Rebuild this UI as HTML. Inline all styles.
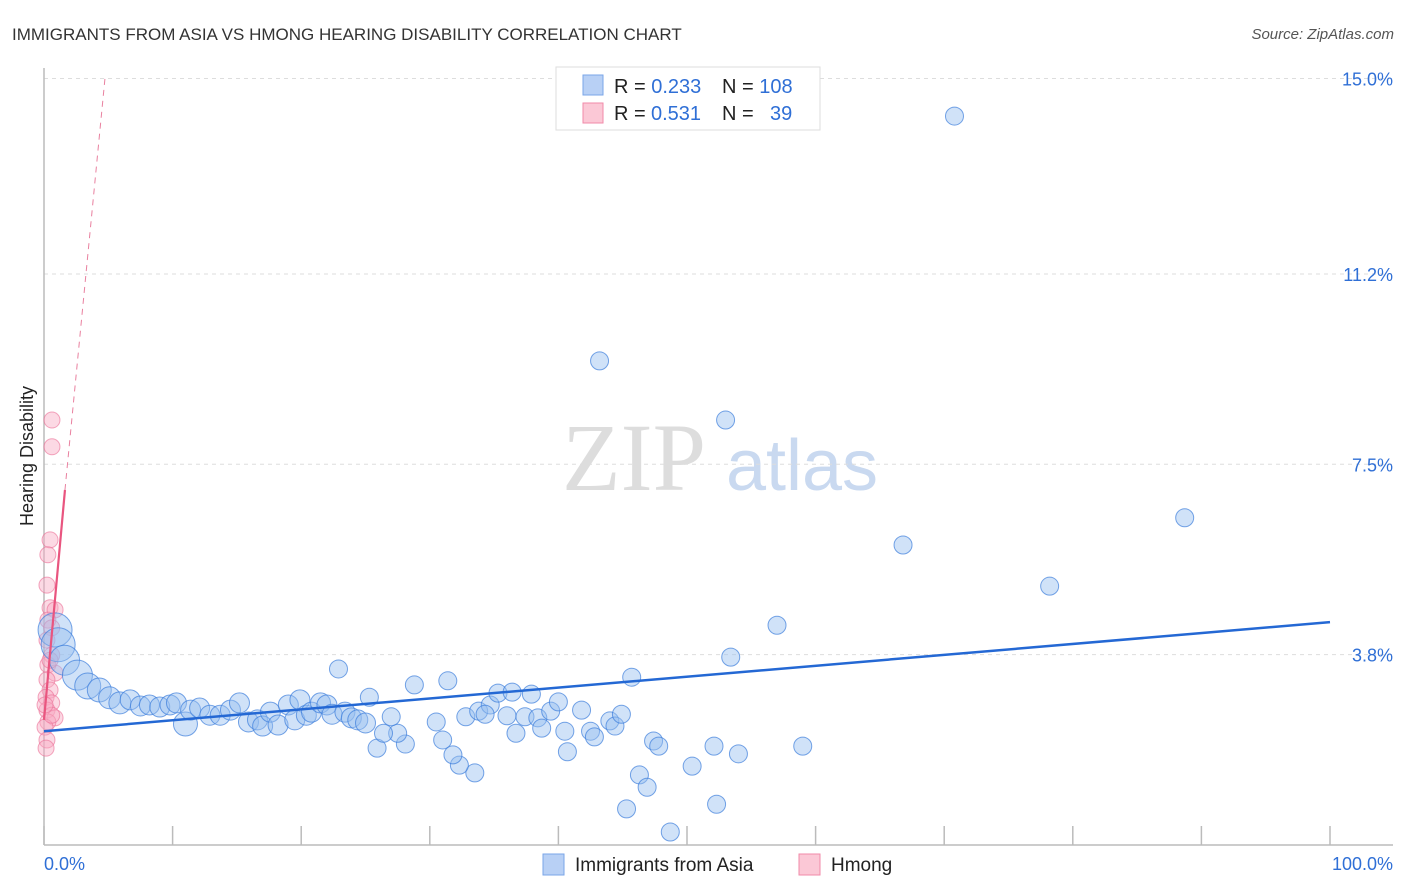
<!DOCTYPE html>
<html><head><meta charset="utf-8">
<style>
body{margin:0;background:#fff;font-family:"Liberation Sans",sans-serif;}
#wrap{position:relative;width:1406px;height:892px;overflow:hidden;}
</style></head>
<body>
<div id="wrap">
<svg id="svg" width="1406" height="892" xmlns="http://www.w3.org/2000/svg">
<text x="12" y="40" font-size="17" fill="#333">IMMIGRANTS FROM ASIA VS HMONG HEARING DISABILITY CORRELATION CHART</text>
<text x="1394" y="39" font-size="15" fill="#555" text-anchor="end" font-style="italic">Source: ZipAtlas.com</text>
<text x="33" y="456" font-size="18" fill="#222" text-anchor="middle" transform="rotate(-90 33 456)">Hearing Disability</text>
<g>
<text x="634" y="490" font-size="96" fill="#ddd" font-family="Liberation Serif,serif" text-anchor="middle">ZIP</text>
<text x="802" y="490" font-size="72" fill="#c9d9f0" text-anchor="middle">atlas</text>
</g>
<g id="grid"></g>
<g id="axes"></g>
<g id="pts"></g>
<g id="trend"></g>
<g>
<rect x="556" y="67" width="264" height="63" fill="#fff" stroke="#ddd"/>
<rect x="583" y="75" width="20" height="20" fill="#b8d0f5" stroke="#7aa6e8"/>
<rect x="583" y="103" width="20" height="20" fill="#fbc8d6" stroke="#f08aa8"/>
<text x="614" y="93" font-size="20" fill="#222">R = <tspan fill="#2f6fd6">0.233</tspan><tspan x="722">N = </tspan><tspan fill="#2f6fd6">108</tspan></text>
<text x="614" y="120" font-size="20" fill="#222">R = <tspan fill="#2f6fd6" x="651">0.531</tspan><tspan x="722">N = </tspan><tspan fill="#2f6fd6" x="770">39</tspan></text>
</g>
<g>
<rect x="543" y="854" width="21" height="21" fill="#b8d0f5" stroke="#7aa6e8"/>
<text x="575" y="871" font-size="19" fill="#222">Immigrants from Asia</text>
<rect x="799" y="854" width="21" height="21" fill="#fbc8d6" stroke="#f08aa8"/>
<text x="831" y="871" font-size="19" fill="#222">Hmong</text>
</g>
</svg>
</div>
<script>
const yTicks=[15.0,11.2,7.5,3.8];
const yTickLabels=["15.0%","11.2%","7.5%","3.8%"];
const xTicks=[0,10,20,30,40,50,60,70,80,90,100];
const xTickLabels=["0.0%","100.0%"];
const asiaX=[70.8,43.2,53.0,88.7,66.8,78.2,57.0,53.4,45.7,22.9,31.4,28.8,59.0,52.1,54.0,50.4,46.3,46.9,45.3,52.3,48.7,33.5,32.3,31.8,31.0,25.9,28.1,27.5,26.4,30.5,27.0,25.3,32.8,33.8,34.7,35.3,36.4,37.9,36.0,34.3,36.7,37.4,38.4,38.7,39.4,40.0,40.7,40.5,41.8,42.5,42.8,44.0,44.4,44.9,47.4,47.8,
0.86,1.1,1.6,2.6,3.4,4.3,5.1,5.9,6.7,7.5,8.2,9.0,9.8,10.3,11.0,11.4,12.1,12.9,13.7,14.5,15.2,15.9,16.6,17.0,17.6,18.2,19.0,19.5,19.9,20.4,20.8,21.5,22.0,22.4,23.4,23.9,24.4,25.0];
const asiaY=[14.27,9.51,8.36,6.46,5.93,5.13,4.37,3.75,3.36,3.52,3.29,3.21,2.02,2.02,1.87,1.63,1.46,1.22,0.80,0.89,0.35,1.50,1.65,1.85,2.14,1.98,2.06,2.27,2.27,2.49,2.59,2.97,2.59,2.70,2.82,3.05,3.07,3.03,2.61,2.64,2.27,2.59,2.57,2.37,2.70,2.88,1.91,2.31,2.72,2.31,2.20,2.51,2.41,2.64,2.12,2.02,
4.28,3.99,3.69,3.40,3.19,3.11,2.96,2.86,2.92,2.80,2.82,2.78,2.82,2.86,2.45,2.72,2.76,2.62,2.62,2.72,2.86,2.49,2.53,2.41,2.68,2.43,2.82,2.53,2.92,2.62,2.68,2.86,2.82,2.64,2.68,2.57,2.53,2.47];
const asiaR=[9,9,9,9,9,9,9,9,9,9,9,9,9,9,9,9,9,9,9,9,9,9,9,9,9,9,9,9,9,9,9,9,9,9,9,9,9,9,9,9,9,9,9,9,9,9,9,9,9,9,9,9,9,9,9,9,
17,17,15,15,13,12,11,11,10,10,10,10,10,10,12,10,10,10,10,10,10,10,10,10,10,10,10,10,10,10,10,10,10,10,10,10,10,10];
const hmongX=[0.62,0.62,0.47,0.3,0.23,0.47,0.86,0.3,0.6,0.23,0.6,0.3,0.86,0.23,0.47,0.16,0.6,0.23,0.86,0.3,0.08,0.23,0.16,0.6,0.08,0.47];
const hmongY=[8.36,7.84,6.03,5.74,5.15,4.71,4.67,4.47,4.32,4.08,3.79,3.60,3.44,3.31,3.11,2.97,2.86,2.72,2.57,2.49,2.39,2.14,1.98,2.62,2.82,3.69];
const asiaTrend=[[0,2.31],[100,4.43]];
const hmongTrend=[[0,2.53],[1.63,7.0],[4.74,15.0]];

const NS="http://www.w3.org/2000/svg";
const X0=44,X1=1330,Y0=850,PY=51.43;
function sx(v){return X0+(X1-X0)*v/100;}
function sy(v){return Y0-v*PY;}
function mk(tag,attrs,parent){const e=document.createElementNS(NS,tag);for(const k in attrs)e.setAttribute(k,attrs[k]);parent.appendChild(e);return e;}
const grid=document.getElementById('grid'),axes=document.getElementById('axes'),pts=document.getElementById('pts'),trend=document.getElementById('trend');
yTicks.forEach((t,i)=>{
 const l=mk('line',{x1:44,x2:1393,y1:sy(t),y2:sy(t),stroke:'#ddd','stroke-dasharray':'4,4'},grid);
 
 
 const tx=mk('text',{x:1393,y:sy(t)+7,'font-size':18,fill:'#2f6fd6','text-anchor':'end'},axes);
 tx.textContent=yTickLabels[i];
 
 
});
let a=mk('line',{x1:44,x2:44,y1:68,y2:845,stroke:'#bbb','stroke-width':1.5},axes);


a=mk('line',{x1:44,x2:1393,y1:845,y2:845,stroke:'#bbb','stroke-width':1.5},axes);


xTicks.forEach(t=>{
 const l=mk('line',{x1:sx(t),x2:sx(t),y1:826,y2:845,stroke:'#bbb','stroke-width':1.5},axes);
 
 
});
let tl=mk('text',{x:44,y:870,'font-size':18,fill:'#2f6fd6'},axes);tl.textContent=xTickLabels[0];


tl=mk('text',{x:1393,y:870,'font-size':18,fill:'#2f6fd6','text-anchor':'end'},axes);tl.textContent=xTickLabels[1];


hmongX.forEach((v,i)=>{
 const c=mk('circle',{cx:sx(v),cy:sy(hmongY[i]),r:8,fill:'rgba(248,170,195,0.45)',stroke:'rgba(235,110,150,0.6)','stroke-width':1},pts);
 
 
});
asiaX.forEach((v,i)=>{
 const c=mk('circle',{cx:sx(v),cy:sy(asiaY[i]),r:asiaR[i],fill:'rgba(150,190,240,0.45)',stroke:'rgba(60,125,220,0.7)','stroke-width':1},pts);
 
 
});
let t=mk('line',{x1:sx(asiaTrend[0][0]),y1:sy(asiaTrend[0][1]),x2:sx(asiaTrend[1][0]),y2:sy(asiaTrend[1][1]),stroke:'#2468d4','stroke-width':2.5},trend);


t=mk('line',{x1:sx(hmongTrend[0][0]),y1:sy(hmongTrend[0][1]),x2:sx(hmongTrend[1][0]),y2:sy(hmongTrend[1][1]),stroke:'#e9557f','stroke-width':2.2},trend);


t=mk('line',{x1:sx(hmongTrend[1][0]),y1:sy(hmongTrend[1][1]),x2:sx(hmongTrend[2][0]),y2:sy(hmongTrend[2][1]),stroke:'#e9809f','stroke-width':1,'stroke-dasharray':'6,5'},trend);


</script>
</body></html>
